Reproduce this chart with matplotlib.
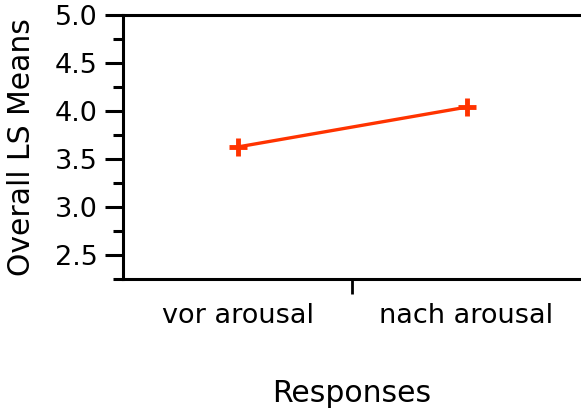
import matplotlib.pyplot as plt
from matplotlib.ticker import MultipleLocator, FixedLocator

# data
categories = ['vor arousal', 'nach arousal']
ls_means = [3.625, 4.04]

fig = plt.figure(figsize=(5.81, 4.13), dpi=100)
ax = fig.add_axes([123 / 581, 1 - 279 / 413, (581 - 123) / 581, (279 - 15) / 413])

xpos = [i + 0.5 for i in range(len(categories))]
ax.plot(xpos, ls_means, color='#ff3300', lw=2.4, marker='+', ms=13, mew=3.5)

ax.set_xlim(0, len(categories))
ax.set_ylim(2.25, 5.0)

ax.yaxis.set_major_locator(MultipleLocator(0.5))
ax.yaxis.set_minor_locator(MultipleLocator(0.25))
ax.tick_params(axis='y', which='major', length=13, width=2.2, direction='out', pad=5, labelsize=19.5)
ax.tick_params(axis='y', which='minor', length=7, width=2.2, direction='out')

# one divider tick between categories, labels centered in cells
ax.xaxis.set_major_locator(FixedLocator([1]))
ax.xaxis.set_minor_locator(FixedLocator(xpos))
ax.set_xticklabels([''], minor=False)
ax.set_xticklabels(categories, minor=True)
ax.tick_params(axis='x', which='major', length=10.5, width=2.0, direction='out')
ax.tick_params(axis='x', which='minor', length=0, pad=17, labelsize=19.5)

for s in ['left', 'bottom', 'top']:
    ax.spines[s].set_linewidth(2.2)
ax.spines['right'].set_visible(False)

ax.set_ylabel('Overall LS Means', fontsize=21.5, labelpad=14)
ax.set_xlabel('Responses', fontsize=21.5, labelpad=36)

fig.savefig('out.png', dpi=100)
